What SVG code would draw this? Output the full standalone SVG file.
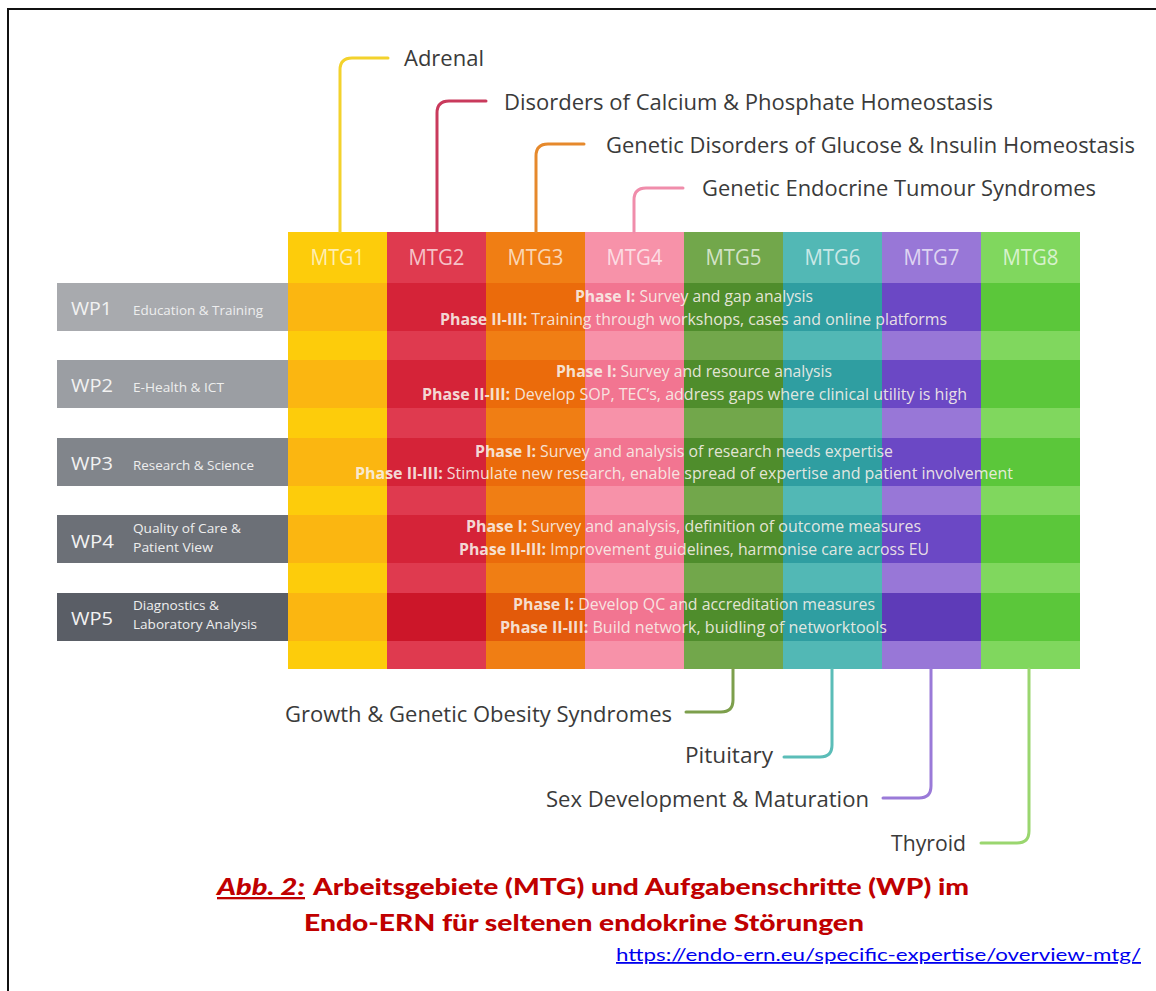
<svg xmlns="http://www.w3.org/2000/svg" width="1156" height="991" viewBox="0 0 1156 991">
<style>
.lbl{font-family:"Open Sans","Noto Sans",sans-serif;font-size:22px;fill:#3a3a3a}
.mtg{font-family:"Open Sans","Noto Sans",sans-serif;font-size:21px;fill:#ffffff;fill-opacity:0.7;text-anchor:middle}
.wp{font-family:"Open Sans","Noto Sans",sans-serif;font-size:19px;fill:#f2f2f2}
.sub{font-family:"Open Sans","Noto Sans",sans-serif;font-size:13px;fill:#eeeeee}
.ph{font-family:"Open Sans","Noto Sans",sans-serif;font-size:16px;fill:#f8f1ea;fill-opacity:0.9}
.ph .b{font-weight:bold}
.con{fill:none;stroke-width:3;stroke-linecap:round}
.cap{font-family:Lato,"Liberation Sans",sans-serif;font-size:23px;font-weight:900;fill:#c00000}
.url{font-family:Lato,"Liberation Sans",sans-serif;font-size:18px;fill:#0000ee;text-decoration:underline}
#mtg1 .l{fill:#fdcc0b} #mtg1 .d{fill:#fbb611}
#mtg2 .l{fill:#df3a4f} #mtg2 .d{fill:#d52338}
#mtg3 .l{fill:#f07e14} #mtg3 .d{fill:#eb6b0b}
#mtg4 .l{fill:#f792a9} #mtg4 .d{fill:#f27591}
#mtg5 .l{fill:#72a74b} #mtg5 .d{fill:#4f8d2c}
#mtg6 .l{fill:#52b8b5} #mtg6 .d{fill:#2f9ea1}
#mtg7 .l{fill:#9877d7} #mtg7 .d{fill:#6b48c5}
#mtg8 .l{fill:#80d75e} #mtg8 .d{fill:#5bc73a}
</style>
<rect x="0" y="0" width="1156" height="991" fill="#ffffff"/>
<path d="M8,991 V9 H1156" fill="none" stroke="#111111" stroke-width="2"/>

<g id="mtg1"><rect class="l" x="288" y="232" width="99" height="437"/><rect class="d" x="288" y="283" width="99" height="48"/><rect class="d" x="288" y="360" width="99" height="48"/><rect class="d" x="288" y="438" width="99" height="48"/><rect class="d" x="288" y="515" width="99" height="48"/><rect class="d" x="288" y="593" width="99" height="48"/><text class="mtg" x="337.5" y="265" textLength="54" lengthAdjust="spacingAndGlyphs">MTG1</text></g>
<g id="mtg2"><rect class="l" x="387" y="232" width="99" height="437"/><rect class="d" x="387" y="283" width="99" height="48"/><rect class="d" x="387" y="360" width="99" height="48"/><rect class="d" x="387" y="438" width="99" height="48"/><rect class="d" x="387" y="515" width="99" height="48"/><rect class="d" x="387" y="593" width="99" height="48" style="fill:#cc1629"/><text class="mtg" x="436.5" y="265" textLength="56" lengthAdjust="spacingAndGlyphs">MTG2</text></g>
<g id="mtg3"><rect class="l" x="486" y="232" width="99" height="437"/><rect class="d" x="486" y="283" width="99" height="48"/><rect class="d" x="486" y="360" width="99" height="48"/><rect class="d" x="486" y="438" width="99" height="48"/><rect class="d" x="486" y="515" width="99" height="48"/><rect class="d" x="486" y="593" width="99" height="48" style="fill:#e35a0a"/><text class="mtg" x="535.5" y="265" textLength="56" lengthAdjust="spacingAndGlyphs">MTG3</text></g>
<g id="mtg4"><rect class="l" x="585" y="232" width="99" height="437"/><rect class="d" x="585" y="283" width="99" height="48"/><rect class="d" x="585" y="360" width="99" height="48"/><rect class="d" x="585" y="438" width="99" height="48"/><rect class="d" x="585" y="515" width="99" height="48"/><rect class="d" x="585" y="593" width="99" height="48"/><text class="mtg" x="634.5" y="265" textLength="56" lengthAdjust="spacingAndGlyphs">MTG4</text></g>
<g id="mtg5"><rect class="l" x="684" y="232" width="99" height="437"/><rect class="d" x="684" y="283" width="99" height="48"/><rect class="d" x="684" y="360" width="99" height="48"/><rect class="d" x="684" y="438" width="99" height="48"/><rect class="d" x="684" y="515" width="99" height="48"/><rect class="d" x="684" y="593" width="99" height="48"/><text class="mtg" x="733.5" y="265" textLength="56" lengthAdjust="spacingAndGlyphs">MTG5</text></g>
<g id="mtg6"><rect class="l" x="783" y="232" width="99" height="437"/><rect class="d" x="783" y="283" width="99" height="48"/><rect class="d" x="783" y="360" width="99" height="48"/><rect class="d" x="783" y="438" width="99" height="48"/><rect class="d" x="783" y="515" width="99" height="48"/><rect class="d" x="783" y="593" width="99" height="48"/><text class="mtg" x="832.5" y="265" textLength="56" lengthAdjust="spacingAndGlyphs">MTG6</text></g>
<g id="mtg7"><rect class="l" x="882" y="232" width="99" height="437"/><rect class="d" x="882" y="283" width="99" height="48"/><rect class="d" x="882" y="360" width="99" height="48"/><rect class="d" x="882" y="438" width="99" height="48"/><rect class="d" x="882" y="515" width="99" height="48"/><rect class="d" x="882" y="593" width="99" height="48" style="fill:#5e3bb8"/><text class="mtg" x="931.5" y="265" textLength="56" lengthAdjust="spacingAndGlyphs">MTG7</text></g>
<g id="mtg8"><rect class="l" x="981" y="232" width="99" height="437"/><rect class="d" x="981" y="283" width="99" height="48"/><rect class="d" x="981" y="360" width="99" height="48"/><rect class="d" x="981" y="438" width="99" height="48"/><rect class="d" x="981" y="515" width="99" height="48"/><rect class="d" x="981" y="593" width="99" height="48"/><text class="mtg" x="1030.5" y="265" textLength="56" lengthAdjust="spacingAndGlyphs">MTG8</text></g>

<g id="wp1">
<rect x="57" y="283" width="231" height="48" fill="#a8aaae"/>
<text class="wp" x="71" y="315" textLength="41" lengthAdjust="spacingAndGlyphs">WP1</text>
<text class="sub" x="133" y="315" textLength="130" lengthAdjust="spacingAndGlyphs">Education &amp; Training</text>
<text class="ph" x="575" y="302" textLength="238" lengthAdjust="spacingAndGlyphs"><tspan class="b">Phase I:</tspan> Survey and gap analysis</text>
<text class="ph" x="440" y="325" textLength="507" lengthAdjust="spacingAndGlyphs"><tspan class="b">Phase II-III:</tspan> Training through workshops, cases and online platforms</text>
</g>
<g id="wp2">
<rect x="57" y="360" width="231" height="48" fill="#9b9ea3"/>
<text class="wp" x="71" y="392" textLength="42" lengthAdjust="spacingAndGlyphs">WP2</text>
<text class="sub" x="133" y="392" textLength="91" lengthAdjust="spacingAndGlyphs">E-Health &amp; ICT</text>
<text class="ph" x="556" y="377" textLength="276" lengthAdjust="spacingAndGlyphs"><tspan class="b">Phase I:</tspan> Survey and resource analysis</text>
<text class="ph" x="422" y="400" textLength="545" lengthAdjust="spacingAndGlyphs"><tspan class="b">Phase II-III:</tspan> Develop SOP, TEC’s, address gaps where clinical utility is high</text>
</g>
<g id="wp3">
<rect x="57" y="438" width="231" height="48" fill="#81858b"/>
<text class="wp" x="71" y="470" textLength="42" lengthAdjust="spacingAndGlyphs">WP3</text>
<text class="sub" x="133" y="470" textLength="121" lengthAdjust="spacingAndGlyphs">Research &amp; Science</text>
<text class="ph" x="475" y="457" textLength="418" lengthAdjust="spacingAndGlyphs"><tspan class="b">Phase I:</tspan> Survey and analysis of research needs expertise</text>
<text class="ph" x="355" y="479" textLength="658" lengthAdjust="spacingAndGlyphs"><tspan class="b">Phase II-III:</tspan> Stimulate new research, enable spread of expertise and patient involvement</text>
</g>
<g id="wp4">
<rect x="57" y="515" width="231" height="48" fill="#6c7077"/>
<text class="wp" x="71" y="548" textLength="43" lengthAdjust="spacingAndGlyphs">WP4</text>
<text class="sub" x="133" y="533" textLength="108" lengthAdjust="spacingAndGlyphs">Quality of Care &amp;</text>
<text class="sub" x="133" y="552" textLength="80" lengthAdjust="spacingAndGlyphs">Patient View</text>
<text class="ph" x="466" y="532" textLength="455" lengthAdjust="spacingAndGlyphs"><tspan class="b">Phase I:</tspan> Survey and analysis, definition of outcome measures</text>
<text class="ph" x="459" y="555" textLength="470" lengthAdjust="spacingAndGlyphs"><tspan class="b">Phase II-III:</tspan> Improvement guidelines, harmonise care across EU</text>
</g>
<g id="wp5">
<rect x="57" y="593" width="231" height="48" fill="#5a5e66"/>
<text class="wp" x="71" y="625" textLength="42" lengthAdjust="spacingAndGlyphs">WP5</text>
<text class="sub" x="133" y="610" textLength="86" lengthAdjust="spacingAndGlyphs">Diagnostics &amp;</text>
<text class="sub" x="133" y="629" textLength="124" lengthAdjust="spacingAndGlyphs">Laboratory Analysis</text>
<text class="ph" x="513" y="610" textLength="362" lengthAdjust="spacingAndGlyphs"><tspan class="b">Phase I:</tspan> Develop QC and accreditation measures</text>
<text class="ph" x="500" y="633" textLength="387" lengthAdjust="spacingAndGlyphs"><tspan class="b">Phase II-III:</tspan> Build network, buidling of networktools</text>
</g>

<g id="connectors">
<path class="con" stroke="#f3d22c" d="M340,232 V70 Q340,58 352,58 H388"/>
<path class="con" stroke="#c93a5c" d="M437,232 V113 Q437,101 449,101 H486"/>
<path class="con" stroke="#e6892c" d="M536,232 V156 Q536,144 548,144 H584"/>
<path class="con" stroke="#f08dab" d="M634,232 V200 Q634,188 646,188 H683"/>
<path class="con" stroke="#7d9f4c" d="M733,669 V700 Q733,712 721,712 H686"/>
<path class="con" stroke="#5bbdb8" d="M832,669 V745 Q832,757 820,757 H784"/>
<path class="con" stroke="#9a7ad8" d="M931,669 V786 Q931,798 919,798 H883"/>
<path class="con" stroke="#9ad66f" d="M1029,669 V831 Q1029,843 1017,843 H981"/>
</g>

<g id="labels">
<text class="lbl" x="404" y="66" textLength="80" lengthAdjust="spacingAndGlyphs">Adrenal</text>
<text class="lbl" x="504" y="110" textLength="489" lengthAdjust="spacingAndGlyphs">Disorders of Calcium &amp; Phosphate Homeostasis</text>
<text class="lbl" x="606" y="153" textLength="529" lengthAdjust="spacingAndGlyphs">Genetic Disorders of Glucose &amp; Insulin Homeostasis</text>
<text class="lbl" x="702" y="196" textLength="394" lengthAdjust="spacingAndGlyphs">Genetic Endocrine Tumour Syndromes</text>
<text class="lbl" x="285" y="722" textLength="387" lengthAdjust="spacingAndGlyphs">Growth &amp; Genetic Obesity Syndromes</text>
<text class="lbl" x="685" y="763" textLength="88" lengthAdjust="spacingAndGlyphs">Pituitary</text>
<text class="lbl" x="546" y="807" textLength="323" lengthAdjust="spacingAndGlyphs">Sex Development &amp; Maturation</text>
<text class="lbl" x="891" y="851" textLength="75" lengthAdjust="spacingAndGlyphs">Thyroid</text>
</g>

<g id="caption">
<text class="cap" x="217" y="895" font-style="italic" text-decoration="underline" textLength="88" lengthAdjust="spacingAndGlyphs">Abb. 2:</text>
<text class="cap" x="313" y="895" textLength="656" lengthAdjust="spacingAndGlyphs">Arbeitsgebiete (MTG) und Aufgabenschritte (WP) im</text>
<text class="cap" x="304" y="931" textLength="560" lengthAdjust="spacingAndGlyphs">Endo-ERN für seltenen endokrine Störungen</text>
<text class="url" x="616" y="961" textLength="525" lengthAdjust="spacingAndGlyphs">https://endo-ern.eu/specific-expertise/overview-mtg/</text>
</g>
</svg>
